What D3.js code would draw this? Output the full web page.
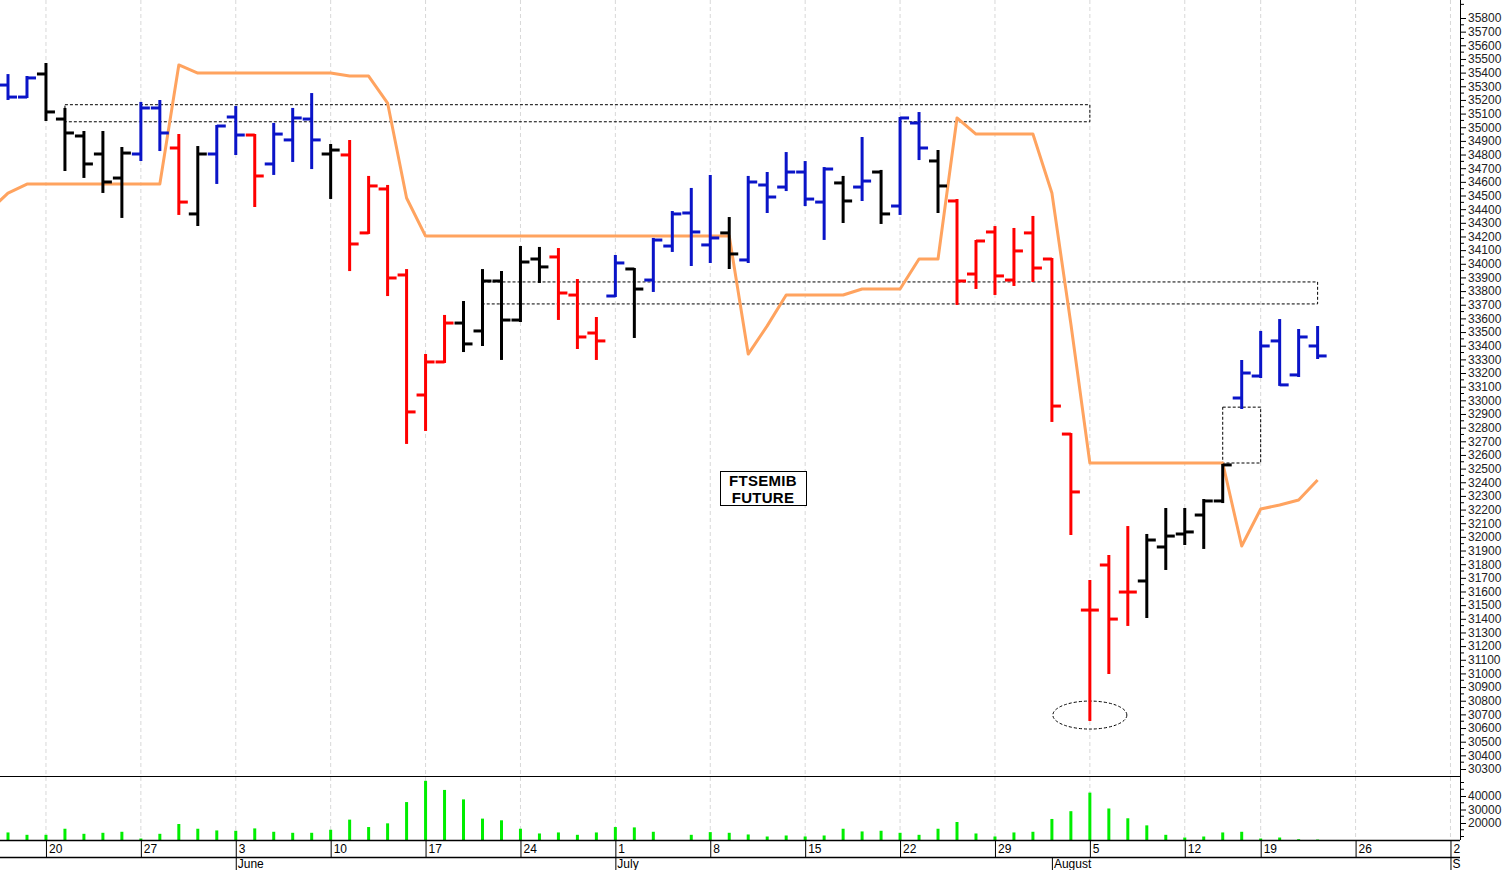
<!DOCTYPE html>
<html><head><meta charset="utf-8">
<script src="https://cdn.jsdelivr.net/npm/d3@7/dist/d3.min.js"></script>
<style>body{margin:0;background:#fff}svg{display:block}</style>
</head><body>
<svg id="c" width="1508" height="870"></svg>
<script>
const dates = ["2019-05-16","2019-05-17","2019-05-20","2019-05-21","2019-05-22","2019-05-23","2019-05-24","2019-05-27","2019-05-28","2019-05-29","2019-05-30","2019-05-31","2019-06-03","2019-06-04","2019-06-05","2019-06-06","2019-06-07","2019-06-10","2019-06-11","2019-06-12","2019-06-13","2019-06-14","2019-06-17","2019-06-18","2019-06-19","2019-06-20","2019-06-21","2019-06-24","2019-06-25","2019-06-26","2019-06-27","2019-06-28","2019-07-01","2019-07-02","2019-07-03","2019-07-04","2019-07-05","2019-07-08","2019-07-09","2019-07-10","2019-07-11","2019-07-12","2019-07-15","2019-07-16","2019-07-17","2019-07-18","2019-07-19","2019-07-22","2019-07-23","2019-07-24","2019-07-25","2019-07-26","2019-07-29","2019-07-30","2019-07-31","2019-08-01","2019-08-02","2019-08-05","2019-08-06","2019-08-07","2019-08-08","2019-08-09","2019-08-12","2019-08-13","2019-08-14","2019-08-16","2019-08-19","2019-08-20","2019-08-21","2019-08-22"];
const open  = [35309,35221,35390,35060,34936,34804,34628,34804,35141,34848,34365,34804,35075,34943,34731,34907,35060,34804,34797,34226,34548,33918,33039,33281,33566,33508,33874,33588,34035,34050,33771,33493,33764,33962,33881,34130,34372,34138,34226,34028,34577,34562,34672,34452,34592,34562,34672,34423,35031,34753,34460,33925,34233,33881,34226,34035,32753,31464,31794,31596,31677,31926,32021,32160,32263,33017,33178,33435,33186,33398];
const high  = [35382,35368,35463,35134,34965,34965,34848,35178,35192,34943,34855,35009,35148,34943,35024,35134,35243,34870,34899,34636,34570,33954,33332,33618,33720,33954,33940,34123,34116,34108,33881,33603,34057,33962,34182,34379,34548,34643,34335,34636,34665,34811,34745,34701,34636,34921,34680,35068,35104,34826,34467,34167,34269,34255,34343,34035,32753,31677,31860,32072,32014,32204,32204,32270,32527,33288,33501,33588,33515,33537];
const low   = [35207,35221,35053,34687,34636,34526,34343,34760,34833,34365,34284,34592,34804,34423,34658,34753,34701,34482,33954,34226,33771,32688,32783,33281,33361,33405,33303,33581,33867,33596,33383,33303,33764,33464,33801,34094,33991,34013,33969,34013,34379,34540,34430,34182,34306,34467,34299,34365,34767,34379,33706,33823,33779,33845,33874,32849,32021,30659,31003,31355,31413,31765,31948,31919,32255,32944,33171,33113,33178,33310];
const close = [35221,35361,35112,34958,34731,34599,34811,35141,34958,34452,34804,35009,34943,34643,34950,35068,34907,34833,34145,34570,33896,32915,33281,33566,33413,33874,33588,34013,33977,33786,33464,33435,34006,33815,34174,34365,34233,34189,34072,34599,34489,34672,34474,34694,34460,34606,34365,35068,34848,34570,33874,34167,33911,34094,33969,32958,32329,31464,31398,31596,31977,32006,32036,32263,32527,33200,33398,33113,33464,33325];
const barColor = ["b","b","k","k","k","k","k","b","b","r","k","b","b","r","b","b","b","k","r","r","r","r","r","r","k","k","k","k","k","r","r","r","b","k","b","b","b","b","k","b","b","b","b","b","k","b","k","b","b","k","r","r","r","r","r","r","r","r","r","r","k","k","k","k","k","b","b","b","b","b"];
const stopLine = [34518,34584,34584,34584,34584,34584,34584,34584,34584,35456,35397,35397,35397,35397,35397,35397,35397,35397,35375,35375,35177,34482,34203,34203,34203,34203,34203,34203,34203,34203,34203,34203,34203,34203,34203,34203,34203,34203,34203,33339,33545,33771,33771,33771,33771,33815,33815,33815,34035,34035,35068,34950,34950,34950,34950,34518,33559,32541,32541,32541,32541,32541,32541,32541,32541,31933,32204,32233,32270,32417];
const stopPrev = 34386;
const volume = [13000,11250,11250,15750,12000,12750,13500,8500,12000,19250,15750,14500,14250,16000,13500,12750,12750,15000,22500,17000,19750,35500,51250,44500,37500,23250,22000,15750,12250,13000,11250,13000,17000,16750,13500,7000,11250,13250,12750,11500,10000,10750,10000,10750,15750,13750,14250,12750,11250,15750,20750,12250,10000,13000,13500,23000,28750,42500,30750,23500,18250,11250,9250,10000,13000,13500,8500,9250,8000,7750];
const priceTicks = d3.range(30300, 35801, 100);
const volTicks = [20000,30000,40000];
const weekTicks = [["05-20","20"],["05-27","27"],["06-03","3"],["06-10","10"],["06-17","17"],["06-24","24"],["07-01","1"],["07-08","8"],["07-15","15"],["07-22","22"],["07-29","29"],["08-05","5"],["08-12","12"],["08-19","19"],["08-26","26"],["09-02","2"]];
const futureDays = ["2019-08-23","2019-08-26","2019-08-27","2019-08-28","2019-08-29","2019-08-30","2019-09-02"];
const monthTicks = [["2019-06-03","June"],["2019-07-01","July"],["2019-08-01","August"],["2019-09-02","S"]];
// annotations [startDate, endDate, top, bottom]
const boxes = [["2019-05-21","2019-08-05",35165,35040],["2019-06-20","2019-08-22",33867,33706],["2019-08-14","2019-08-19",32950,32541]];
const ellipseAnn = ["2019-08-05",30695];
const title = ["FTSEMIB","FUTURE"];

const allDays = dates.concat(futureDays);
const idx = d => allDays.indexOf(d);
const x = d3.scaleLinear().domain([0, 76]).range([8, 8 + 18.98*76]);
const xd = d => x(idx(d));
const y = d3.scaleLinear().domain([30300, 35800]).range([769, 18]);
const yv = d3.scaleLinear().domain([20000, 40000]).range([823, 796]);
const colors = {b:"#0a14c8", r:"#ff0000", k:"#000000"};
const svg = d3.select("#c");
const AX = 1460;

const clip = svg.append("clipPath").attr("id","cl").append("rect").attr("x",0).attr("y",0).attr("width",AX).attr("height",776);
// grid
const gx = weekTicks.map(t => xd("2019-"+t[0]));
svg.append("g").selectAll("line").data(gx).join("line")
  .attr("x1",d=>d).attr("x2",d=>d).attr("y1",0).attr("y2",840)
  .attr("stroke","#d8d8d8").attr("stroke-dasharray","4,3");

// boxes
const ann = svg.append("g").attr("clip-path","url(#cl)");
ann.selectAll("rect").data(boxes).join("rect")
  .attr("x",d=>xd(d[0])).attr("width",d=>xd(d[1])-xd(d[0]))
  .attr("y",d=>y(d[2])).attr("height",d=>y(d[3])-y(d[2]))
  .attr("fill","none").attr("stroke","#000").attr("stroke-width",1).attr("stroke-dasharray","3,2");
ann.append("ellipse").attr("cx",xd(ellipseAnn[0])).attr("cy",y(ellipseAnn[1])).attr("rx",37).attr("ry",14)
  .attr("fill","none").attr("stroke","#000").attr("stroke-dasharray","3,2");

// stop line
const g = svg.append("g").attr("clip-path","url(#cl)");
const linePts = [[-1, stopPrev]].concat(stopLine.map((v,i)=>[i,v]));
g.append("path").attr("d", d3.line().x(d=>x(d[0])).y(d=>y(d[1]))(linePts))
  .attr("fill","none").attr("stroke","#ffa35f").attr("stroke-width",3).attr("stroke-linejoin","round");

// ohlc
const bars = g.selectAll("g.b").data(dates).join("g").attr("stroke",(d,i)=>colors[barColor[i]]).attr("stroke-width",3);
bars.append("line").attr("x1",(d,i)=>x(i)).attr("x2",(d,i)=>x(i)).attr("y1",(d,i)=>y(high[i])-1).attr("y2",(d,i)=>y(low[i])+1);
bars.append("line").attr("x1",(d,i)=>x(i)-9).attr("x2",(d,i)=>x(i)).attr("y1",(d,i)=>y(open[i])).attr("y2",(d,i)=>y(open[i]));
bars.append("line").attr("x1",(d,i)=>x(i)).attr("x2",(d,i)=>x(i)+9).attr("y1",(d,i)=>y(close[i])).attr("y2",(d,i)=>y(close[i]));

// title box
const tb = svg.append("g");
tb.append("rect").attr("x",720.5).attr("y",471.5).attr("width",86).attr("height",34).attr("fill","#fff").attr("stroke","#000");
tb.selectAll("text").data(title).join("text").attr("x",763).attr("y",(d,i)=>486+i*17)
  .attr("text-anchor","middle").attr("font-family","Liberation Sans, Arial").attr("font-weight","bold").attr("font-size",15).attr("letter-spacing",0.3).text(d=>d);

// volume
svg.append("g").selectAll("line").data(volume).join("line")
  .attr("x1",(d,i)=>x(i)).attr("x2",(d,i)=>x(i)).attr("y1",840).attr("y2",d=>yv(d))
  .attr("stroke","#00ee00").attr("stroke-width",3);

// panel lines
svg.append("line").attr("x1",0).attr("x2",AX).attr("y1",776.5).attr("y2",776.5).attr("stroke","#000");
svg.append("line").attr("x1",0).attr("x2",AX).attr("y1",840.5).attr("y2",840.5).attr("stroke","#000").attr("stroke-width",1.5);
svg.append("line").attr("x1",0).attr("x2",1460).attr("y1",857.5).attr("y2",857.5).attr("stroke","#000").attr("stroke-width",1.5);
svg.append("line").attr("x1",AX+0.5).attr("x2",AX+0.5).attr("y1",0).attr("y2",840).attr("stroke","#000");

// right axes
const yAxis = d3.axisRight(y).tickValues(priceTicks).tickSize(6).tickFormat(d3.format("d"));
const ya = svg.append("g").attr("transform",`translate(${AX},0)`).call(yAxis);
ya.select(".domain").remove();
ya.selectAll("text").attr("font-family","Liberation Sans, Arial").attr("font-size",12).attr("fill","#222").attr("dx",-1);
svg.append("g").attr("transform",`translate(${AX},0)`).selectAll("line").data(d3.range(30350,35850,100).concat([35900])).join("line")
  .attr("x1",0).attr("x2",4).attr("y1",d=>y(d)).attr("y2",d=>y(d)).attr("stroke","#000");
const va = svg.append("g").attr("transform",`translate(${AX},0)`).call(d3.axisRight(yv).tickValues(volTicks).tickSize(6).tickFormat(d3.format("d")));
va.select(".domain").remove();
va.selectAll("text").attr("font-family","Liberation Sans, Arial").attr("font-size",12).attr("fill","#222").attr("dx",-1);
svg.append("g").attr("transform",`translate(${AX},0)`).selectAll("line").data([10000,15000,25000,35000,45000,50000]).join("line")
  .attr("x1",0).attr("x2",4).attr("y1",d=>yv(d)).attr("y2",d=>yv(d)).attr("stroke","#000");

// date row
const dr = svg.append("g");
dr.selectAll("line").data(weekTicks).join("line")
  .attr("x1",d=>xd("2019-"+d[0])+0.5).attr("x2",d=>xd("2019-"+d[0])+0.5).attr("y1",840).attr("y2",857).attr("stroke","#000");
dr.selectAll("text").data(weekTicks).join("text")
  .attr("x",d=>xd("2019-"+d[0])+3).attr("y",853).attr("font-family","Liberation Sans Narrow, Liberation Sans, Arial").attr("font-size",12).text(d=>d[1]);
const mr = svg.append("g");
mr.selectAll("line").data(monthTicks).join("line")
  .attr("x1",d=>xd(d[0])+0.5).attr("x2",d=>xd(d[0])+0.5).attr("y1",857).attr("y2",870).attr("stroke","#000");
mr.selectAll("text").data(monthTicks).join("text")
  .attr("x",d=>xd(d[0])+2).attr("y",868).attr("font-family","Liberation Sans Narrow, Liberation Sans, Arial").attr("font-size",12).text(d=>d[1]);
</script>
</body></html>
